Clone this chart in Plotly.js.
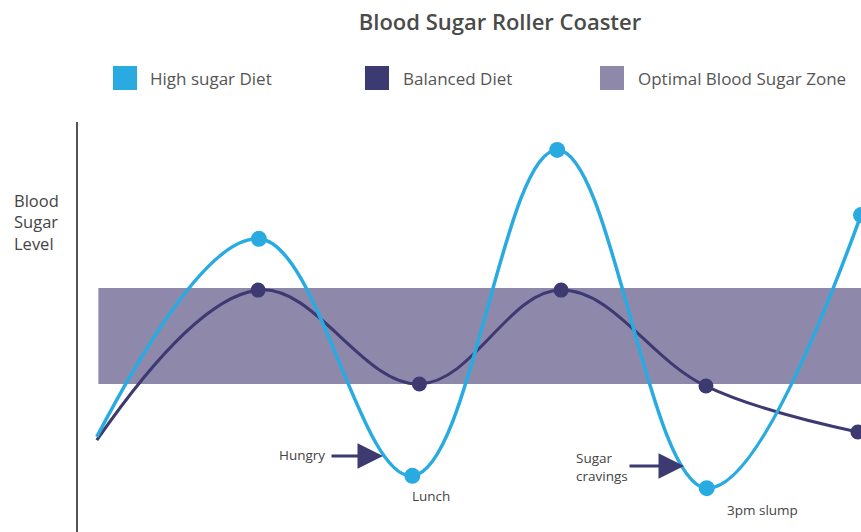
<!DOCTYPE html>
<html>
<head>
<meta charset="utf-8">
<script src="https://cdn.plot.ly/plotly-3.0.1.min.js"></script>
<style>html,body{margin:0;padding:0;background:#fff;}#chart{width:861px;height:532px;}</style>
</head>
<body>
<div id="chart"></div>
<script>
// ---- Data (arbitrary time units 0-100, blood sugar level 0-100) ----
const chartTitle = "Blood Sugar Roller Coaster";
const seriesNames = ["High sugar Diet", "Balanced Diet", "Optimal Blood Sugar Zone"];
const highSugarTime = [2.4, 23.1, 42.7, 61.2, 80.3, 100];
const highSugarLevel = [23.2, 71.5, 13.7, 93.2, 10.7, 77.3];
const balancedTime = [2.4, 23.0, 43.6, 61.7, 80.2, 99.6];
const balancedLevel = [22.4, 59.0, 36.1, 59.0, 35.6, 24.4];
const zoneTime = [2.6, 100];
const zoneLevel = [36.1, 59.5];
const yAxisLabel = "Blood<br>Sugar<br>Level";
const calloutTexts = ["Hungry", "Lunch", "Sugar<br>cravings", "3pm slump"];

// ---- Styles ----
const C_HIGH = "#29abe2", C_BAL = "#3d3a72", C_ZONE = "#8e88ab", C_TEXT = "#4a4a4a";
const FONT = "Open Sans, Lato, sans-serif";
const W = 861, H = 532, ML = 78, MT = 122;
const PW = W - ML, PH = H - MT;
const px2paperX = px => (px - ML) / PW;
const px2paperY = py => (H - py) / PH;
const px2dataX = px => (px - ML) / PW * 100;
const px2dataY = py => (H - py) / PH * 100;

const markerSizes = (n, s) => Array.from({length: n}, (_, i) => i === 0 ? 0 : s);

const traces = [
  {
    x: [zoneTime[0], zoneTime[1], zoneTime[1], zoneTime[0]],
    y: [zoneLevel[0], zoneLevel[0], zoneLevel[1], zoneLevel[1]],
    fill: "toself", fillcolor: C_ZONE, mode: "lines", line: {width: 0},
    name: seriesNames[2], showlegend: false, hoverinfo: "skip"
  },
  {
    x: balancedTime, y: balancedLevel, mode: "lines+markers", name: seriesNames[1],
    line: {color: C_BAL, width: 3, shape: "spline", smoothing: 1.1},
    marker: {color: C_BAL, opacity: 1, size: markerSizes(balancedTime.length, 15), line: {width: 0}}, showlegend: false
  },
  {
    x: highSugarTime, y: highSugarLevel, mode: "lines+markers", name: seriesNames[0],
    line: {color: C_HIGH, width: 3.5, shape: "spline", smoothing: 1.1},
    marker: {color: C_HIGH, opacity: 1, size: markerSizes(highSugarTime.length, 16), line: {width: 0}}, showlegend: false
  }
];

// Legend drawn as squares + text
const legendItems = [
  {sq: 113, tx: 148, color: C_HIGH, label: seriesNames[0]},
  {sq: 365, tx: 401, color: C_BAL, label: seriesNames[1]},
  {sq: 600, tx: 636, color: C_ZONE, label: seriesNames[2]}
];
const shapes = legendItems.map(it => ({
  type: "rect", xref: "paper", yref: "paper",
  x0: px2paperX(it.sq), x1: px2paperX(it.sq + 24),
  y0: px2paperY(90), y1: px2paperY(66),
  fillcolor: it.color, line: {width: 0}
}));

const annotations = legendItems.map(it => ({
  xref: "paper", yref: "paper", x: px2paperX(it.tx), y: px2paperY(79),
  xanchor: "left", yanchor: "middle", text: it.label, showarrow: false,
  font: {family: FONT, size: 17, color: "#555"}
}));

annotations.push({
  xref: "paper", yref: "paper", x: px2paperX(12), y: px2paperY(222),
  xanchor: "left", yanchor: "middle", align: "left", text: yAxisLabel, showarrow: false,
  font: {family: FONT, size: 16.5, color: "#444"}
});

// Callouts
const calloutFont = {family: FONT, size: 13.5, color: "#444"};
annotations.push(
  {x: px2dataX(277), y: px2dataY(455), xanchor: "left", yanchor: "middle", text: calloutTexts[0], showarrow: false, font: calloutFont},
  {x: px2dataX(410), y: px2dataY(496), xanchor: "left", yanchor: "middle", text: calloutTexts[1], showarrow: false, font: calloutFont},
  {x: px2dataX(574), y: px2dataY(467), xanchor: "left", yanchor: "middle", align: "left", text: calloutTexts[2], showarrow: false, font: calloutFont},
  {x: px2dataX(725), y: px2dataY(510), xanchor: "left", yanchor: "middle", text: calloutTexts[3], showarrow: false, font: calloutFont},
  {x: px2dataX(383), y: px2dataY(456), ax: -53, ay: 0, axref: "pixel", ayref: "pixel", text: "", showarrow: true,
   arrowhead: 2, arrowsize: 1.7, arrowwidth: 3, arrowcolor: C_BAL, standoff: 0, startstandoff: 0},
  {x: px2dataX(684), y: px2dataY(466), ax: -56, ay: 0, axref: "pixel", ayref: "pixel", text: "", showarrow: true,
   arrowhead: 2, arrowsize: 1.7, arrowwidth: 3, arrowcolor: C_BAL, standoff: 0, startstandoff: 0}
);

const layout = {
  width: W, height: H,
  margin: {l: ML, r: 0, t: MT, b: 0, pad: 0},
  paper_bgcolor: "#fff", plot_bgcolor: "#fff",
  title: {text: chartTitle, x: 500 / W, xref: "container", xanchor: "center",
          y: 1 - 22 / H, yref: "container", yanchor: "middle",
          font: {family: FONT, size: 22, color: C_TEXT, weight: 600}},
  showlegend: false,
  xaxis: {range: [0, 100], visible: false, fixedrange: true},
  yaxis: {range: [0, 100], showline: true, linecolor: "#555", linewidth: 2,
          showgrid: false, zeroline: false, showticklabels: false, ticks: "", fixedrange: true},
  shapes: shapes,
  annotations: annotations
};

Plotly.newPlot("chart", traces, layout, {displayModeBar: false, staticPlot: true});
</script>
</body>
</html>
